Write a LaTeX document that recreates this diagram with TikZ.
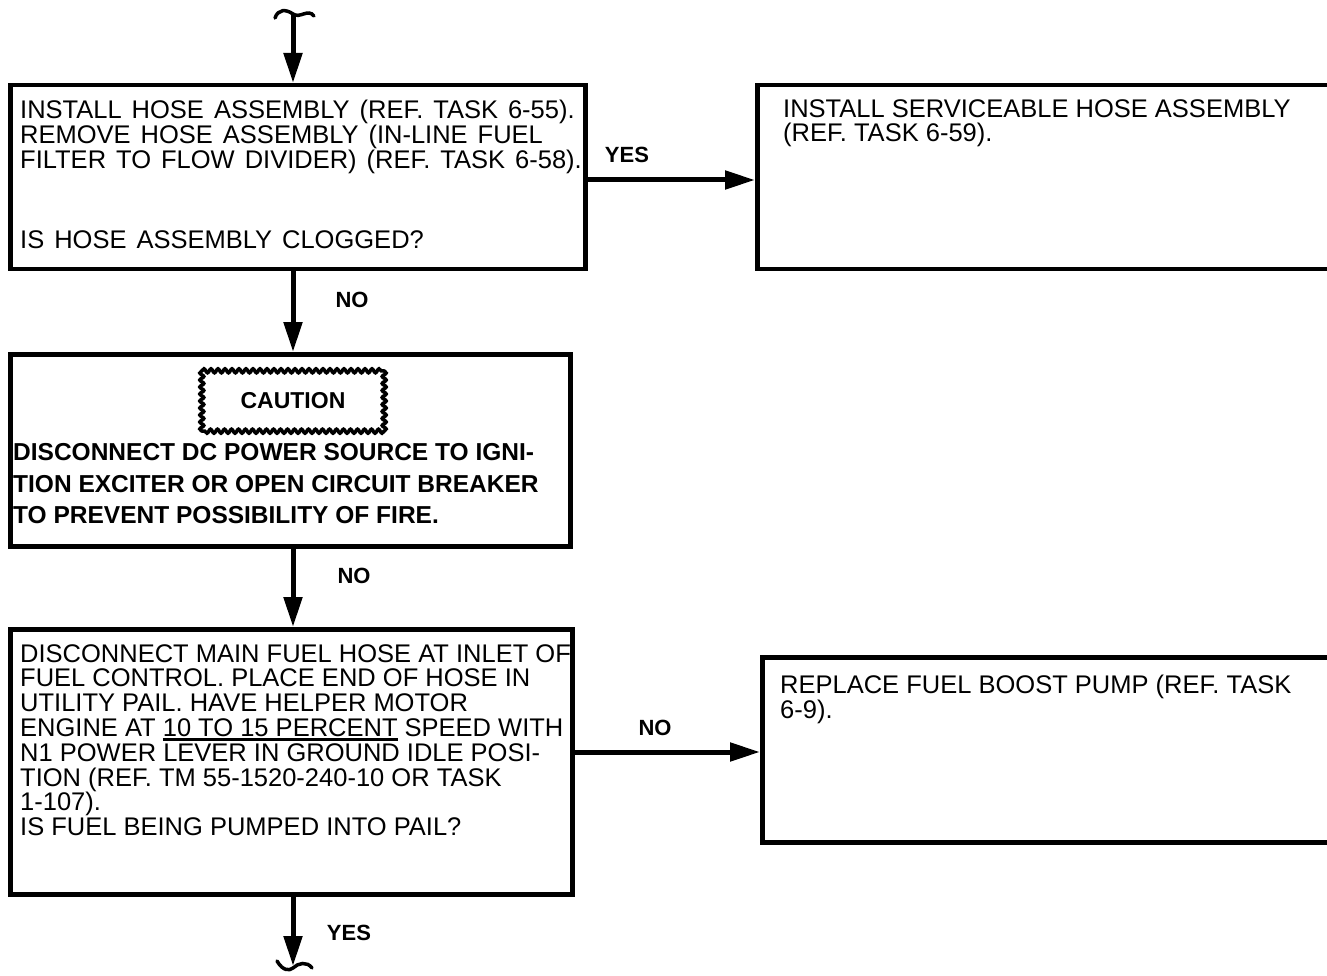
\documentclass[tikz,border=0pt]{standalone}
\usepackage{fontspec}
\setmainfont{Liberation Sans}
\usetikzlibrary{arrows.meta,decorations.pathmorphing}
\newcommand\myul[1]{\setbox0\hbox{#1}\rlap{\rule[-5pt]{\wd0}{3pt}}\box0\relax}
\newcommand\widesp{\spaceskip=10pt plus 1pt\relax}
\begin{document}
\begin{tikzpicture}[x=1pt,y=-1pt,
  box/.style={draw, line width=4.5pt, inner sep=0pt, anchor=north west},
  txt/.style={anchor=north west, inner sep=0pt, align=left, font=\fontsize{25.5}{24.8}\selectfont},
  wtxt/.style={txt, font=\fontsize{25.5}{24.8}\selectfont\widesp},
  btxt/.style={anchor=north west, inner sep=0pt, align=left, font=\bfseries\fontsize{24.5}{31.5}\selectfont},
  lab/.style={inner sep=0pt, font=\bfseries\fontsize{22}{22}\selectfont},
  wavy/.style={line width=3.5pt, line cap=round, decorate, decoration={snake, segment length=7pt, amplitude=2pt}},
  arr/.style={line width=5pt, -{Triangle[length=30pt,width=18pt]}},
  tilde/.style={line width=3.5pt, line cap=round}
]
\useasboundingbox (0,0) rectangle (1327,976);
% boxes
\node[box, minimum width=575pt, minimum height=184pt] (b1) at (8,83) {};
\node[box, minimum width=580pt, minimum height=184pt] (b2) at (755,83) {};
\node[box, minimum width=560pt, minimum height=192pt] (b3) at (8,352) {};
\node[box, minimum width=562pt, minimum height=265pt] (b4) at (8,627) {};
\node[box, minimum width=575pt, minimum height=185pt] (b5) at (760,655) {};
% texts
\node[wtxt] (t1) at (20,100) {INSTALL HOSE ASSEMBLY (REF. TASK 6-55).\\REMOVE HOSE ASSEMBLY (IN-LINE FUEL\\FILTER TO FLOW DIVIDER) (REF. TASK 6-58).\\[55.7pt]IS HOSE ASSEMBLY CLOGGED?};
\node[txt] (t2) at (783,99) {INSTALL SERVICEABLE HOSE ASSEMBLY\\(REF. TASK 6-59).};
\node[btxt] (t3) at (13,443.5) {DISCONNECT DC POWER SOURCE TO IGNI-\\TION EXCITER OR OPEN CIRCUIT BREAKER\\TO PREVENT POSSIBILITY OF FIRE.};
\node[txt] (t4) at (20,644) {DISCONNECT MAIN FUEL HOSE AT INLET OF\\FUEL CONTROL. PLACE END OF HOSE IN\\UTILITY PAIL. HAVE HELPER MOTOR\\ENGINE AT \myul{10 TO 15 PERCENT} SPEED WITH\\N1 POWER LEVER IN GROUND IDLE POSI-\\TION (REF. TM 55-1520-240-10 OR TASK\\1-107).\\IS FUEL BEING PUMPED INTO PAIL?};
\node[txt] (t5) at (780,675) {REPLACE FUEL BOOST PUMP (REF. TASK\\6-9).};
% caution
\node[minimum width=182pt, minimum height=60pt, inner sep=0pt,
  font=\bfseries\fontsize{23}{23}\selectfont] (c) at (293,401) {CAUTION};
\draw[wavy] (c.north west) -- (c.north east);
\draw[wavy] (c.north east) -- (c.south east);
\draw[wavy] (c.south east) -- (c.south west);
\draw[wavy] (c.south west) -- (c.north west);
% coordinates
\coordinate (ax) at (293,0);
\coordinate (y1) at (0,180);
\coordinate (y2) at (0,752);
\coordinate (top) at (293,14);
\coordinate (bot) at (293,966);
% tildes
\draw[tilde] (275,18) .. controls (278,9) and (286,9) .. (293,14) .. controls (300,19) and (308,8) .. (314,16);
\draw[tilde] (277,961) .. controls (283,971) and (289,971) .. (293,968) .. controls (298,963) and (307,961) .. (312,968);
% arrows
\draw[arr] (top) -- (b1.north -| ax);
\draw[arr] (b1.east |- y1) -- (b2.west |- y1);
\draw[arr] (b1.south -| ax) -- (b3.north -| ax);
\draw[arr] (b3.south -| ax) -- (b4.north -| ax);
\draw[arr] (b4.east |- y2) -- (b5.west |- y2);
\draw[arr] (b4.south -| ax) -- (bot);
% labels
\node[lab] (l1) at (627,155) {YES};
\node[lab] (l2) at (352,300) {NO};
\node[lab] (l3) at (354,576) {NO};
\node[lab] (l4) at (655,728) {NO};
\node[lab] (l5) at (349,933) {YES};
\end{tikzpicture}
\end{document}
